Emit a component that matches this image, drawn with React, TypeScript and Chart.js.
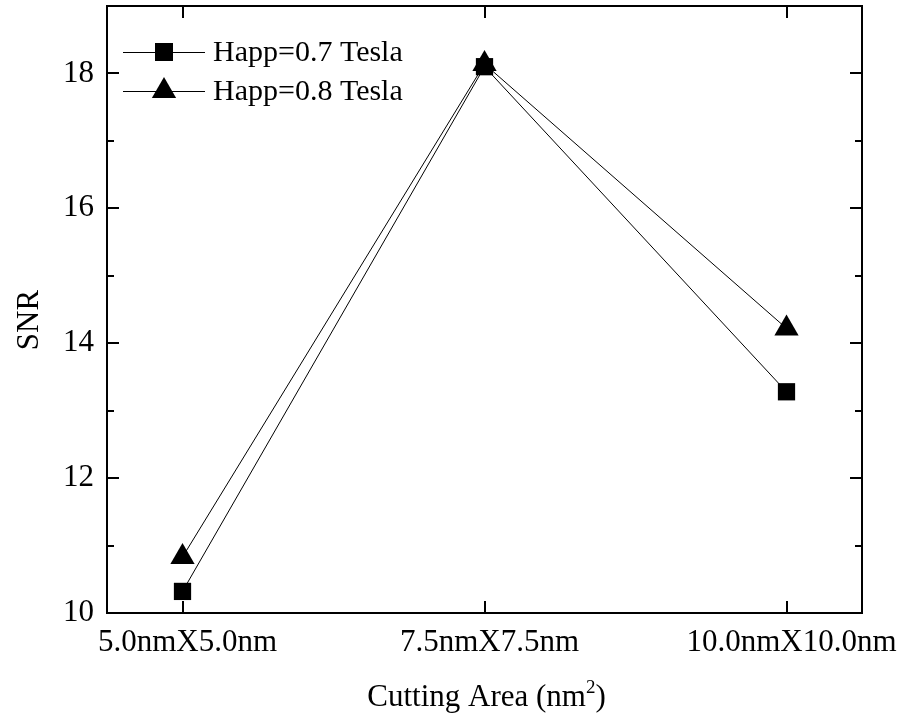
import React, { useEffect, useRef } from 'react';
import { Chart, registerables } from 'chart.js';

Chart.register(...registerables);

const categories = ['5.0nmX5.0nm', '7.5nmX7.5nm', '10.0nmX10.0nm'];
const categoryPositions = [0, 1, 2];
const snrHapp07 = [10.32, 18.1, 13.28];
const snrHapp08 = [10.83, 18.14, 14.22];
const seriesLabels = ['Happ=0.7 Tesla', 'Happ=0.8 Tesla'];
const yMajorTicks = [10, 12, 14, 16, 18];
const yMinorTicks = [11, 13, 15, 17];
const xTitleMain = 'Cutting Area (nm';
const xTitleSup = '2';
const xTitleEnd = ')';
const yTitle = 'SNR';

const FONT = "'Liberation Serif', 'Times New Roman', Times, serif";

function drawMarker(ctx: CanvasRenderingContext2D, style: string, cx: number, cy: number) {
  ctx.beginPath();
  if (style === 'rect') {
    ctx.rect(cx - 9, cy - 9, 18, 18);
  } else {
    const r = 14;
    ctx.moveTo(cx, cy - r);
    ctx.lineTo(cx + r * Math.sin(Math.PI / 3), cy + r / 2);
    ctx.lineTo(cx - r * Math.sin(Math.PI / 3), cy + r / 2);
    ctx.closePath();
  }
  ctx.fill();
}

const originFrame = {
  id: 'originFrame',
  afterDraw(chart: any) {
    const { ctx, chartArea: a, scales } = chart;
    const xs = scales.x;
    const ys = scales.y;
    ctx.save();
    ctx.strokeStyle = '#000';
    ctx.fillStyle = '#000';
    ctx.lineWidth = 2;
    ctx.strokeRect(a.left, a.top, a.right - a.left, a.bottom - a.top);
    ctx.beginPath();
    yMajorTicks.forEach((v) => {
      const py = Math.round(ys.getPixelForValue(v));
      ctx.moveTo(a.left, py);
      ctx.lineTo(a.left + 12, py);
      ctx.moveTo(a.right, py);
      ctx.lineTo(a.right - 12, py);
    });
    yMinorTicks.forEach((v) => {
      const py = Math.round(ys.getPixelForValue(v));
      ctx.moveTo(a.left, py);
      ctx.lineTo(a.left + 7, py);
      ctx.moveTo(a.right, py);
      ctx.lineTo(a.right - 7, py);
    });
    categoryPositions.forEach((v) => {
      const px = Math.round(xs.getPixelForValue(v));
      ctx.moveTo(px, a.bottom);
      ctx.lineTo(px, a.bottom - 12);
      ctx.moveTo(px, a.top);
      ctx.lineTo(px, a.top + 12);
    });
    ctx.stroke();

    // x title with superscript
    ctx.textBaseline = 'alphabetic';
    ctx.textAlign = 'left';
    const big = `31px ${FONT}`;
    const small = `19px ${FONT}`;
    ctx.font = big;
    const w1 = ctx.measureText(xTitleMain).width;
    const w3 = ctx.measureText(xTitleEnd).width;
    ctx.font = small;
    const w2 = ctx.measureText(xTitleSup).width;
    const total = w1 + w2 + w3;
    const cx = (a.left + a.right) / 2 + 2;
    let tx = cx - total / 2;
    const by = 706;
    ctx.font = big;
    ctx.fillText(xTitleMain, tx, by);
    tx += w1;
    ctx.font = small;
    ctx.fillText(xTitleSup, tx, by - 13);
    tx += w2;
    ctx.font = big;
    ctx.fillText(xTitleEnd, tx, by);

    // y title
    ctx.save();
    ctx.translate(38, 320);
    ctx.rotate(-Math.PI / 2);
    ctx.textAlign = 'center';
    ctx.font = big;
    ctx.fillText(yTitle, 0, 0);
    ctx.restore();

    // legend
    chart.data.datasets.forEach((ds: any, i: number) => {
      const ry = 52 + i * 39;
      ctx.lineWidth = 1;
      ctx.beginPath();
      ctx.moveTo(123, ry + 0.5);
      ctx.lineTo(205, ry + 0.5);
      ctx.stroke();
      drawMarker(ctx, ds.pointStyle, 164, ry);
      ctx.font = `30px ${FONT}`;
      ctx.textAlign = 'left';
      ctx.textBaseline = 'middle';
      ctx.fillText(ds.label, 213, ry + 1);
    });
    ctx.restore();
  },
};

export default function App() {
  const ref = useRef<HTMLCanvasElement | null>(null);
  useEffect(() => {
    if (!ref.current) return;
    const tickFont = { family: FONT, size: 31 };
    const chart = new Chart(ref.current, {
      type: 'line',
      data: {
        datasets: [
          {
            label: seriesLabels[0],
            data: categoryPositions.map((x, i) => ({ x, y: snrHapp07[i] })),
            borderColor: '#000',
            backgroundColor: '#000',
            borderWidth: 1,
            pointStyle: 'rect',
            pointRadius: 12.2,
            pointBorderWidth: 0,
            pointBackgroundColor: '#000',
            tension: 0,
            order: 1,
          },
          {
            label: seriesLabels[1],
            data: categoryPositions.map((x, i) => ({ x, y: snrHapp08[i] })),
            borderColor: '#000',
            backgroundColor: '#000',
            borderWidth: 1,
            pointStyle: 'triangle',
            pointRadius: 14,
            pointBorderWidth: 0,
            pointBackgroundColor: '#000',
            tension: 0,
            order: 0,
          },
        ],
      },
      options: {
        animation: false,
        responsive: false,
        devicePixelRatio: 1,
        layout: { autoPadding: false, padding: { top: 6, right: 44, left: 0, bottom: 0 } },
        plugins: { legend: { display: false }, tooltip: { enabled: false } },
        scales: {
          x: {
            type: 'linear',
            min: -0.25,
            max: 2.25,
            grid: { display: false, drawTicks: false },
            border: { display: false },
            ticks: {
              font: tickFont,
              color: '#000',
              padding: 11,
              labelOffset: 5,
              autoSkip: false,
              maxRotation: 0,
              callback: (v: any) => {
                const idx = categoryPositions.indexOf(Number(v));
                return idx >= 0 ? categories[idx] : '';
              },
            },
            afterBuildTicks: (s: any) => {
              s.ticks = categoryPositions.map((v) => ({ value: v }));
            },
            afterFit: (s: any) => {
              s.height = 106;
              s.paddingLeft = 0;
              s.paddingRight = 0;
              s.paddingTop = 0;
              s.paddingBottom = 0;
            },
          },
          y: {
            type: 'linear',
            min: 10,
            max: 19,
            grid: { display: false, drawTicks: false },
            border: { display: false },
            ticks: { font: tickFont, color: '#000', padding: 13 },
            afterBuildTicks: (s: any) => {
              s.ticks = yMajorTicks.map((v) => ({ value: v }));
            },
            afterFit: (s: any) => {
              s.width = 107;
              s.paddingTop = 0;
              s.paddingBottom = 0;
              s.paddingLeft = 0;
              s.paddingRight = 0;
            },
          },
        },
      } as any,
      plugins: [originFrame],
    });
    return () => chart.destroy();
  }, []);
  return (
    <div style={{ position: 'fixed', left: 0, top: 0, width: 906, height: 719, background: '#fff' }}>
      <canvas ref={ref} width={906} height={719} style={{ display: 'block' }} />
    </div>
  );
}
